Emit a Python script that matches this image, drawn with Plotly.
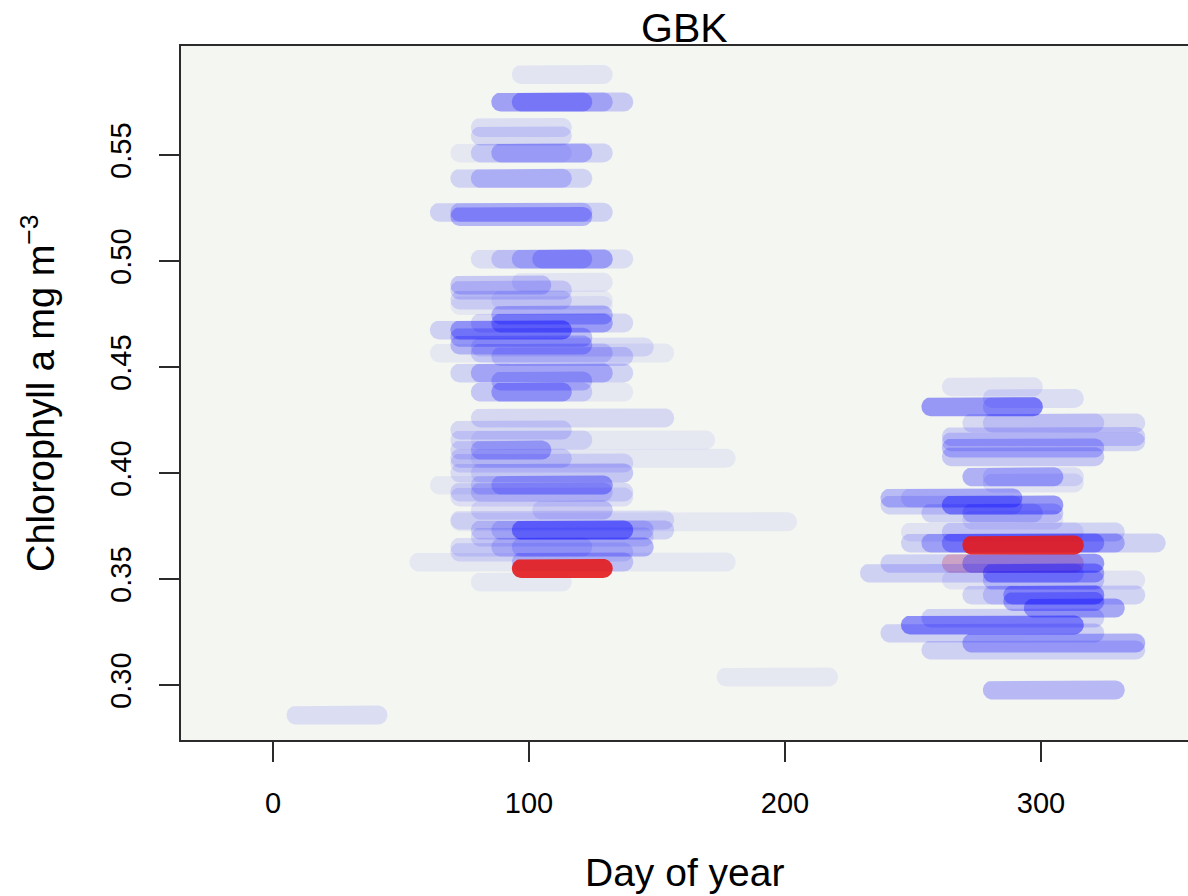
import numpy as np
import plotly.graph_objects as go

# Bloom segments: chlorophyll level, first and last day of the 8-day span, opacity
blue_value = [
    0.588, 0.575, 0.575, 0.575, 0.563, 0.559, 0.551, 0.551, 0.551, 0.539, 0.539,
    0.523, 0.523, 0.521, 0.501, 0.501, 0.501, 0.501, 0.4887, 0.490, 0.4863,
    0.4816, 0.4816, 0.479, 0.4745, 0.4708, 0.4708, 0.4675, 0.4675, 0.464, 0.4604,
    0.4594, 0.4566, 0.4566, 0.455, 0.4472, 0.4472, 0.4434, 0.4382, 0.4382, 0.4382,
    0.426, 0.4203, 0.4156, 0.4156, 0.4108, 0.4108, 0.407, 0.407, 0.4047, 0.400,
    0.400, 0.3943, 0.3943, 0.3943, 0.391, 0.391, 0.3887, 0.3825, 0.3825, 0.3778,
    0.377, 0.3731, 0.3731, 0.3731, 0.3698, 0.3651, 0.3651, 0.3651, 0.3627, 0.358,
    0.358, 0.3486,
    0.2858, 0.3038,
    0.4407, 0.4352, 0.4313, 0.4313, 0.4236, 0.4236, 0.4172, 0.4148, 0.4118, 0.4077,
    0.3982, 0.3982, 0.3953, 0.3882, 0.3882, 0.3849, 0.3849, 0.3811, 0.3811, 0.3778,
    0.3722, 0.3722, 0.367, 0.367, 0.367, 0.3574, 0.3574, 0.3528, 0.3528, 0.3495,
    0.3495, 0.3425, 0.3425, 0.3425, 0.3394, 0.3363, 0.3316, 0.3283, 0.3245, 0.3198,
    0.3165, 0.2976,
]
blue_start = [
    97, 89, 89, 97, 81, 81, 73, 81, 89, 73, 81,
    65, 73, 73, 81, 89, 97, 105, 73, 97, 73,
    73, 89, 73, 89, 89, 81, 65, 73, 73, 73,
    81, 65, 81, 89, 73, 81, 89, 81, 89, 81,
    81, 73, 73, 81, 73, 81, 73, 81, 73, 73,
    81, 65, 89, 81, 73, 81, 73, 81, 105, 73,
    73, 97, 81, 89, 81, 89, 97, 73, 73, 57,
    97, 81,
    9, 177,
    265, 281, 257, 281, 273, 281, 265, 265, 265, 265,
    273, 281, 281, 241, 249, 265, 241, 257, 273, 273,
    265, 249, 249, 257, 265, 241, 273, 233, 281, 265,
    281, 281, 289, 273, 289, 297, 257, 249, 241, 273,
    257, 281,
]
blue_end = [
    129, 137, 129, 121, 113, 113, 113, 129, 121, 121, 113,
    129, 121, 121, 137, 129, 129, 121, 105, 129, 113,
    113, 129, 129, 129, 129, 137, 113, 113, 121, 121,
    145, 153, 129, 137, 137, 129, 121, 121, 113, 137,
    153, 113, 121, 169, 105, 105, 113, 177, 137, 137,
    137, 129, 129, 129, 137, 129, 137, 129, 129, 153,
    201, 137, 153, 145, 145, 145, 145, 121, 137, 177,
    137, 113,
    41, 217,
    297, 313, 297, 297, 337, 321, 337, 337, 321, 321,
    305, 313, 313, 289, 289, 305, 289, 297, 305, 305,
    329, 313, 345, 329, 321, 321, 321, 313, 321, 337,
    321, 337, 321, 321, 321, 329, 321, 313, 321, 337,
    337, 329,
]
blue_alpha = [
    0.07, 0.18, 0.20, 0.26, 0.10, 0.12, 0.06, 0.14, 0.22, 0.14, 0.18,
    0.15, 0.18, 0.26, 0.10, 0.14, 0.18, 0.18, 0.18, 0.07, 0.14,
    0.12, 0.06, 0.06, 0.24, 0.28, 0.12, 0.15, 0.30, 0.22, 0.22,
    0.10, 0.06, 0.14, 0.14, 0.14, 0.22, 0.18, 0.14, 0.28, 0.06,
    0.12, 0.12, 0.11, 0.06, 0.12, 0.18, 0.13, 0.06, 0.11, 0.11,
    0.09, 0.06, 0.18, 0.12, 0.12, 0.12, 0.09, 0.09, 0.09, 0.11,
    0.06, 0.40, 0.14, 0.14, 0.11, 0.14, 0.14, 0.10, 0.10, 0.06,
    0.18, 0.06,
    0.10, 0.06,
    0.08, 0.10, 0.38, 0.14, 0.12, 0.12, 0.15, 0.14, 0.22, 0.18,
    0.28, 0.10, 0.08, 0.24, 0.10, 0.38, 0.14, 0.14, 0.18, 0.08,
    0.14, 0.08, 0.15, 0.24, 0.28, 0.15, 0.28, 0.15, 0.32, 0.08,
    0.18, 0.14, 0.28, 0.14, 0.28, 0.32, 0.15, 0.42, 0.15, 0.28,
    0.15, 0.25,
]

# Highlighted segments (faint one sits beneath the blue, the solid ones on top)
faint_red_value = [0.3574]
faint_red_start = [265]
faint_red_end = [313]
faint_red_alpha = [0.25]

red_value = [0.355, 0.366]
red_start = [97, 273]
red_end = [129, 313]
red_alpha = [0.9]

x_ticks = [0, 100, 200, 300]
y_ticks = [0.30, 0.35, 0.40, 0.45, 0.50, 0.55]
y_tick_text = ["0.30", "0.35", "0.40", "0.45", "0.50", "0.55"]

# Figure geometry
W, H = 1188, 896
M_L, M_R, M_T, M_B = 181, 0, 46, 156
X_RANGE = [-35.94, 357.42]
Y_RANGE = [0.27406, 0.60142]
CAP_PX = 9.5  # half thickness of a segment, pixels

plot_w = W - M_L - M_R
plot_h = H - M_T - M_B
rx = CAP_PX * (X_RANGE[1] - X_RANGE[0]) / plot_w
ry = CAP_PX * (Y_RANGE[1] - Y_RANGE[0]) / plot_h


def stadium(x0, x1, y):
    t_r = np.linspace(-np.pi / 2, np.pi / 2, 19)
    t_l = np.linspace(np.pi / 2, 3 * np.pi / 2, 19)
    xs = np.concatenate([x1 + rx * np.cos(t_r), x0 + rx * np.cos(t_l)])
    ys = np.concatenate([y + ry * np.sin(t_r), y + ry * np.sin(t_l)])
    return np.append(xs, xs[0]), np.append(ys, ys[0])


fig = go.Figure()


def add_segment(x0, x1, y, rgb, a):
    xs, ys = stadium(x0, x1, y)
    fig.add_trace(go.Scatter(
        x=xs, y=ys, mode="lines", fill="toself",
        fillcolor=f"rgba({rgb},{a})", line=dict(width=0),
        hoverinfo="skip", showlegend=False,
    ))


for v, s, e, a in zip(faint_red_value, faint_red_start, faint_red_end, faint_red_alpha):
    add_segment(s, e, v, "228,26,28", a)

for v, s, e, a in zip(blue_value, blue_start, blue_end, blue_alpha):
    add_segment(s, e, v, "0,0,255", a)

for v, s, e in zip(red_value, red_start, red_end):
    add_segment(s, e, v, "228,26,28", red_alpha[0])

FONT = "Liberation Sans, Arial, sans-serif"
AX = "#2b2b2b"

fig.update_layout(
    width=W, height=H,
    margin=dict(l=M_L, r=M_R, t=M_T, b=M_B, pad=0),
    paper_bgcolor="white",
    plot_bgcolor="#f4f6f1",
    font=dict(family=FONT, color="black"),
    xaxis=dict(
        range=X_RANGE, tickvals=x_ticks, ticks="outside", ticklen=20, tickwidth=2,
        tickcolor=AX, showline=True, linecolor=AX, linewidth=2, mirror=True,
        showgrid=False, zeroline=False, tickfont=dict(size=29, family=FONT),
        ticklabelstandoff=16,
    ),
    yaxis=dict(
        range=Y_RANGE, tickvals=y_ticks, ticktext=y_tick_text, tickangle=-90,
        ticks="outside", ticklen=20, tickwidth=2, tickcolor=AX, showline=True,
        linecolor=AX, linewidth=2, mirror=False, showgrid=False, zeroline=False,
        tickfont=dict(size=29, family=FONT), ticklabelstandoff=16,
    ),
    annotations=[
        dict(text="GBK", xref="paper", yref="paper", x=0.5, y=(H - M_B - 28) / plot_h,
             xanchor="center", yanchor="middle", showarrow=False,
             font=dict(size=41, family=FONT)),
        dict(text="Day of year", xref="paper", yref="paper", x=0.5,
             y=(H - M_B - 872) / plot_h, xanchor="center", yanchor="middle",
             showarrow=False, font=dict(size=39, family=FONT)),
        dict(text="Chlorophyll a mg m<sup>\u22123</sup>", xref="paper", yref="paper",
             x=(38 - M_L) / plot_w, y=0.5, xanchor="center", yanchor="middle",
             textangle=-90, showarrow=False, font=dict(size=38, family=FONT)),
    ],
)

fig.write_html("out.html")
